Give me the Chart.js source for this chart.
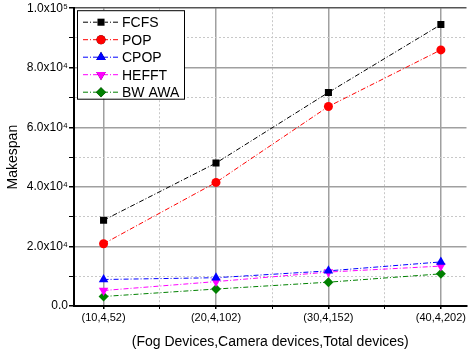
<!DOCTYPE html>
<html>
<head>
<meta charset="utf-8">
<script src="https://cdn.jsdelivr.net/npm/chart.js@4"></script>
<style>
  html, body { margin: 0; padding: 0; background: #fff; }
  #wrap { width: 472px; height: 356px; }
</style>
</head>
<body>
<div id="wrap"><canvas id="makespanChart"></canvas></div>
<script>
const categories = ["(10,4,52)", "(20,4,102)", "(30,4,152)", "(40,4,202)"];
const fcfs = [28800, 48000, 71700, 94500];
const pop = [20900, 41500, 67000, 86000];
const cpop = [8900, 9500, 11800, 14800];
const hefft = [5200, 8200, 11400, 13400];
const bwAwa = [3200, 5700, 8000, 10800];
const yTickLabels = ["0.0", "2.0x10\u2074", "4.0x10\u2074", "6.0x10\u2074", "8.0x10\u2074", "1.0x10\u2075"];

const FONT = "'Liberation Sans', Arial, sans-serif";
const DASH = [5, 2, 1, 2];

function series(label, values, color, style, radius, rotation) {
  return {
    label: label,
    data: values.map((v, i) => ({ x: i, y: v })),
    borderColor: color,
    backgroundColor: color,
    borderWidth: 1,
    borderDash: DASH,
    pointStyle: style,
    pointRadius: radius,
    pointRotation: rotation || 0,
    pointBorderWidth: 0,
    pointBackgroundColor: color,
    tension: 0
  };
}

// legend box in the top-left corner of the plot
const boxLegend = {
  id: "boxLegend",
  afterDraw(chart) {
    const ctx = chart.ctx;
    const area = chart.chartArea;
    const x0 = area.left + 3, y0 = area.top + 2;
    const w = 107, rowH = 17.5;
    const sets = chart.data.datasets;
    const h = rowH * sets.length + 1;
    ctx.save();
    ctx.fillStyle = "#fff";
    ctx.fillRect(x0, y0, w, h);
    ctx.strokeStyle = "#000";
    ctx.lineWidth = 1;
    ctx.strokeRect(x0 + 0.5, y0 + 0.5, w, h);
    sets.forEach((ds, i) => {
      const cy = y0 + 12 + i * rowH;
      ctx.strokeStyle = ds.borderColor;
      ctx.setLineDash(DASH);
      ctx.beginPath();
      ctx.moveTo(x0 + 6, cy);
      ctx.lineTo(x0 + 42, cy);
      ctx.stroke();
      ctx.setLineDash([]);
      Chart.helpers.drawPoint(ctx, {
        pointStyle: ds.pointStyle,
        radius: ds.pointRadius,
        rotation: ds.pointRotation,
        borderWidth: 0
      }, x0 + 24, cy);
      ctx.fillStyle = ds.borderColor;
      ctx.fill();
      ctx.fillStyle = "#000";
      ctx.font = "14px " + FONT;
      ctx.textBaseline = "middle";
      ctx.textAlign = "left";
      ctx.fillText(ds.label, x0 + 45, cy + 1);
    });
    ctx.restore();
  }
};

new Chart(document.getElementById("makespanChart"), {
  type: "line",
  data: {
    datasets: [
      series("FCFS", fcfs, "#000000", "rect", 5),
      series("POP", pop, "#ff0000", "circle", 4.5),
      series("CPOP", cpop, "#0000ff", "triangle", 5.5),
      series("HEFFT", hefft, "#ff00ff", "triangle", 5.5, 180),
      series("BW AWA", bwAwa, "#008000", "rectRot", 5)
    ]
  },
  options: {
    responsive: true,
    maintainAspectRatio: false,
    animation: false,
    layout: { padding: { top: 8, right: 0, left: 0, bottom: 0 } },
    plugins: { legend: { display: false }, tooltip: { enabled: false } },
    scales: {
      x: {
        type: "linear",
        min: -0.263,
        max: 3.228,
        afterBuildTicks(scale) {
          scale.ticks = [0, 0.5, 1, 1.5, 2, 2.5, 3].map(v => ({ value: v }));
        },
        afterFit(scale) { scale.height = 50; },
        ticks: {
          autoSkip: false,
          maxRotation: 0,
          padding: 2,
          color: "#000",
          font: { family: FONT, size: 11 },
          callback: v => Number.isInteger(v) ? categories[v] : ""
        },
        grid: {
          color: c => (c.tick && Number.isInteger(c.tick.value)) ? "#a0a0a0" : "#c8c8c8",
          lineWidth: c => (c.tick && Number.isInteger(c.tick.value)) ? 1.5 : 1,
          tickColor: "#000",
          tickLength: c => (c.tick && Number.isInteger(c.tick.value)) ? 6 : 3
        },
        border: {
          color: "#000",
          width: 2,
          dash: c => (c.tick && !Number.isInteger(c.tick.value)) ? [2, 2] : []
        },
        title: {
          display: true,
          text: "(Fog Devices,Camera devices,Total devices)",
          color: "#000",
          font: { family: FONT, size: 14 },
          padding: { top: 0, bottom: 5 }
        }
      },
      y: {
        min: 0,
        max: 100000,
        afterFit(scale) { scale.width = 74; },
        ticks: {
          stepSize: 10000,
          padding: 1,
          color: "#000",
          font: { family: FONT, size: 12 },
          callback: v => v % 20000 === 0 ? yTickLabels[v / 20000] : ""
        },
        grid: {
          color: c => (c.tick && c.tick.value === 100000) ? "#555" : (c.tick && c.tick.value % 20000 === 0) ? "#a0a0a0" : "#c8c8c8",
          lineWidth: c => (c.tick && c.tick.value % 20000 === 0) ? 1.5 : 1,
          tickColor: "#000",
          tickLength: 5
        },
        border: {
          color: "#000",
          width: 2,
          dash: c => (c.tick && c.tick.value % 20000 !== 0) ? [2, 2] : []
        },
        title: {
          display: true,
          text: "Makespan",
          color: "#000",
          font: { family: FONT, size: 14 },
          padding: { top: 5, bottom: 0 }
        }
      }
    }
  },
  plugins: [boxLegend]
});
</script>
</body>
</html>
